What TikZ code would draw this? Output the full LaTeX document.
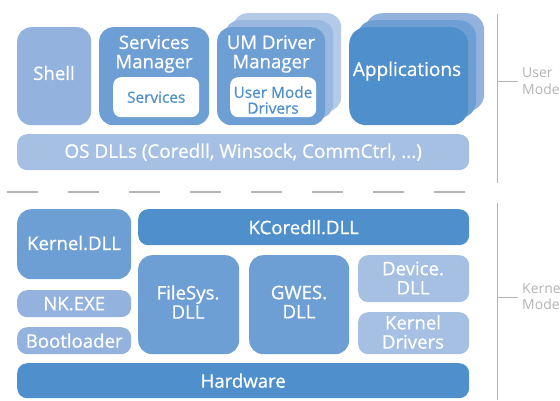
\documentclass[tikz,border=0pt]{standalone}
\usepackage{fontspec}
\setmainfont{Open Sans}
\newfontfamily\lblfont{Open Sans}[FakeBold=0.7]
\definecolor{cdark}{HTML}{4F8FCC}
\definecolor{cmed}{HTML}{6D9FD5}
\definecolor{clight}{HTML}{93B3DE}
\definecolor{clighter}{HTML}{A6C0E3}
\definecolor{cback}{HTML}{B3CAE8}
\definecolor{cgray}{HTML}{B4B4B4}
\tikzset{
  box/.style={rounded corners=10pt, anchor=north west, inner sep=0pt, text=white},
  lbl/.style={text=white, align=center, inner sep=0pt, font=\lblfont\fontsize{18.6}{19.2}\selectfont},
  inbox/.style={rounded corners=8pt, anchor=north west, inner sep=0pt, fill=white},
  intxt/.style={text=cdark, align=center, inner sep=0pt, font=\lblfont\fontsize{15.4}{15.8}\selectfont},
  side/.style={text=cgray, align=left, anchor=west, inner sep=0pt, font=\fontsize{14}{16.5}\selectfont},
}
\begin{document}
\begin{tikzpicture}[x=1pt,y=-1pt]
\useasboundingbox (0,0) rectangle (560,400);
% user mode
\node[box, fill=clight, minimum width=74pt, minimum height=98pt, rounded corners=14pt] (shell) at (17,27) {};
\node[lbl] (shellt) at (54,73) {Shell};
\node[box, fill=cmed, minimum width=110pt, minimum height=98pt, rounded corners=14pt] (sm) at (99,27) {};
\node[lbl] (smt) at (154,54) {Services\\Manager};
\node[inbox, minimum width=86pt, minimum height=40pt] (svc) at (113,77) {};
\node[intxt] (svct) at (svc.center) {Services};
% UM driver stack
\node[box, fill=cback, minimum width=108pt, minimum height=98pt, rounded corners=14pt] (umb2) at (233,13) {};
\node[box, fill=clighter!80!cmed, minimum width=108pt, minimum height=98pt, rounded corners=14pt] (umb1) at (225,20) {};
\node[box, fill=cmed, minimum width=108pt, minimum height=98pt, rounded corners=14pt] (um) at (217,27) {};
\node[lbl] (umt) at (271,54) {UM Driver\\Manager};
\node[inbox, minimum width=86pt, minimum height=40pt] (umd) at (230,77) {};
\node[intxt] (umdt) at (273,100) {User Mode\\Drivers};
% applications stack
\node[box, fill=clight, minimum width=119pt, minimum height=98pt, rounded corners=17pt] (apb2) at (365,13) {};
\node[box, fill=cmed, minimum width=119pt, minimum height=98pt, rounded corners=17pt] (apb1) at (357,20) {};
\node[box, fill=cdark, minimum width=119pt, minimum height=98pt, rounded corners=17pt] (app) at (349,27) {};
\node[lbl, font=\lblfont\fontsize{19}{20}\selectfont] (appt) at (407,71) {Applications};
% OS DLLs
\node[box, fill=clighter, minimum width=452pt, minimum height=36pt] (osd) at (17,134) {};
\node[lbl, font=\lblfont\fontsize{18.9}{20}\selectfont] (osdt) at (osd.center) {OS DLLs (Coredll, Winsock, CommCtrl, ...)};
% separator
\draw[cgray, line width=1.2pt, dash pattern=on 31pt off 30pt] (7,192) -- (468,192);
% kernel
\node[box, fill=cmed, minimum width=114pt, minimum height=70pt, rounded corners=14pt] (kdll) at (17,209) {};
\node[lbl] (kdllt) at (74,243) {Kernel.DLL};
\node[box, fill=cdark, minimum width=331pt, minimum height=36pt] (kc) at (138,209) {};
\node[lbl] (kct) at (kc.center) {KCoredll.DLL};
\node[box, fill=clight, minimum width=114pt, minimum height=27pt] (nk) at (17,290) {};
\node[lbl] (nkt) at (nk.center) {NK.EXE};
\node[box, fill=clight, minimum width=114pt, minimum height=27pt] (boot) at (17,327) {};
\node[lbl] (boott) at (boot.center) {Bootloader};
\node[box, fill=cmed, minimum width=101pt, minimum height=99pt, rounded corners=14pt] (fs) at (138,255) {};
\node[lbl] (fst) at (188,302) {FileSys.\\DLL};
\node[box, fill=cmed, minimum width=100pt, minimum height=99pt, rounded corners=14pt] (gw) at (249,255) {};
\node[lbl] (gwt) at (299,302) {GWES.\\DLL};
\node[box, fill=clighter, minimum width=111pt, minimum height=47pt] (dev) at (358,255) {};
\node[lbl] (devt) at (413,278) {Device.\\DLL};
\node[box, fill=clighter, minimum width=111pt, minimum height=42pt] (kd) at (358,312) {};
\node[lbl] (kdt) at (413,332) {Kernel\\Drivers};
\node[box, fill=cdark, minimum width=452pt, minimum height=35pt] (hw) at (17,363) {};
\node[lbl] (hwt) at (hw.center) {Hardware};
% side labels
\coordinate (ut) at (497,14);
\coordinate (ub) at (497,183);
\coordinate (um1) at (497,81);
\coordinate (um2) at (518,81);
\draw[cgray, line width=1pt] (ut) -- (ub);
\draw[cgray, line width=1pt] (um1) -- (um2);
\node[side] (ulbl) at (522,81) {User\\Mode};
\coordinate (kt) at (497,203);
\coordinate (kb) at (497,400);
\coordinate (km1) at (497,297);
\coordinate (km2) at (518,297);
\draw[cgray, line width=1pt] (kt) -- (kb);
\draw[cgray, line width=1pt] (km1) -- (km2);
\node[side] (klbl) at (522,296) {Kernel\\Mode};
\end{tikzpicture}
\end{document}
